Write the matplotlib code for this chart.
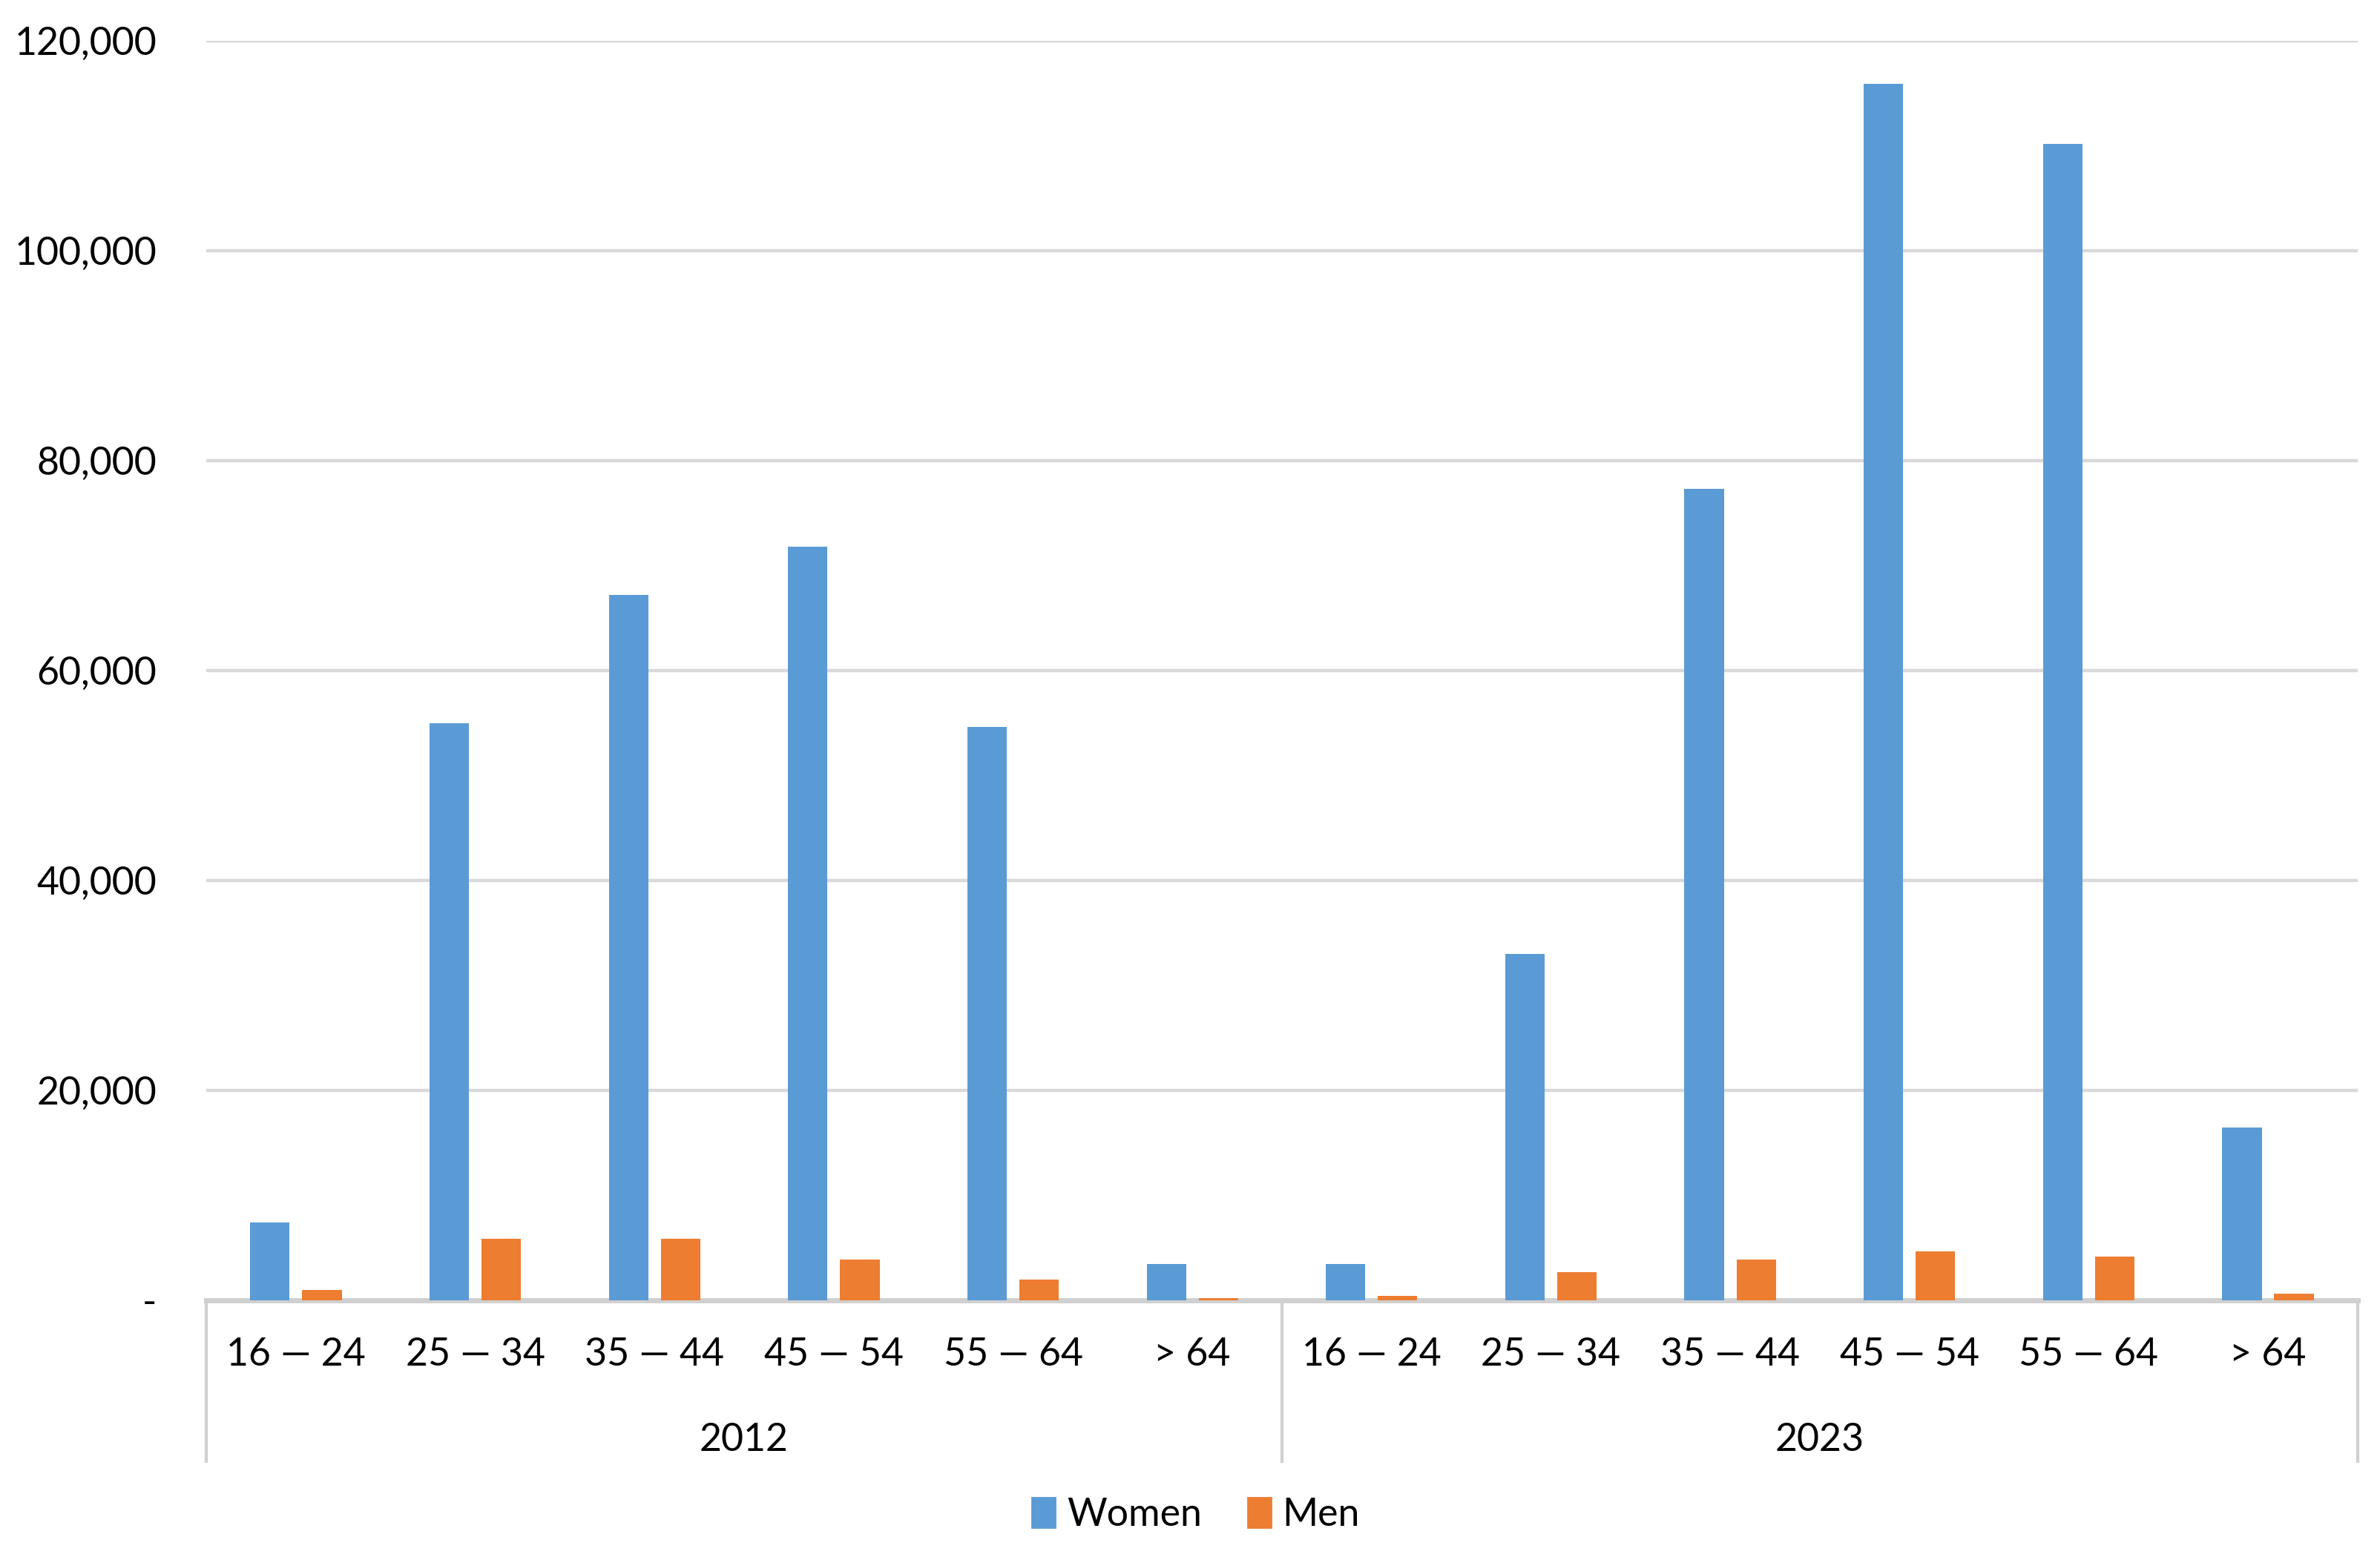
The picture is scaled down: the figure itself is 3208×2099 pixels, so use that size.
import numpy as np
import matplotlib
matplotlib.use("Agg")
import matplotlib.pyplot as plt
from matplotlib.patches import Patch

plt.rcParams['font.family'] = ['Lato', 'DejaVu Sans']

# data
age_groups = ['16 \u2014 24', '25 \u2014 34', '35 \u2014 44', '45 \u2014 54', '55 \u2014 64', '> 64']
years = ['2012', '2023']
women_2012 = [7400, 55000, 67200, 71800, 54600, 3500]
men_2012 = [1000, 5900, 5900, 3900, 2000, 200]
women_2023 = [3500, 33000, 77300, 115900, 110200, 16500]
men_2023 = [420, 2700, 3900, 4700, 4200, 650]

women = women_2012 + women_2023
men = men_2012 + men_2023
labels = age_groups + age_groups

blue = '#5B9BD5'
orange = '#ED7D31'
fs = 18.7

fig = plt.figure(figsize=(16.04, 10.495), dpi=200)
ax = fig.add_axes([0.0867, 0.1648, 0.9039, 0.809])

x = np.arange(len(labels))
w = 0.22
ax.bar(x - 0.145, women, w, color=blue, zorder=3)
ax.bar(x + 0.145, men, w, color=orange, zorder=3)

ax.set_xlim(-0.5, len(labels) - 0.5)
ax.set_ylim(0, 120000)
yt = np.arange(0, 120001, 20000)
ax.set_yticks(yt)
ax.set_yticklabels(['-'] + [f'{v:,}' for v in yt[1:]], fontsize=fs)
ax.tick_params(axis='y', length=0, pad=24)
ax.grid(axis='y', color='#d9d9d9', linewidth=1.6, zorder=0)
ax.set_xticks([])
for s in ['top', 'right', 'left']:
    ax.spines[s].set_visible(False)
ax.spines['bottom'].set_color('#d0d0d0')
ax.spines['bottom'].set_linewidth(2.5)

# category labels and year groups below the axis
tr = ax.get_xaxis_transform()
for i, lab in enumerate(labels):
    ax.text(i, -0.0435, lab, transform=tr, ha='center', va='center', fontsize=fs)
n = len(age_groups)
for j, yr in enumerate(years):
    ax.text(j * n + (n - 1) / 2, -0.111, yr, transform=tr, ha='center', va='center', fontsize=fs)
for b in [-0.5, n - 0.5, 2 * n - 0.5]:
    ax.plot([b, b], [0, -0.128], transform=tr, color='#d0d0d0', linewidth=1.5, clip_on=False)

handles = [Patch(color=blue, label='Women'), Patch(color=orange, label='Men')]
fig.legend(handles=handles, loc='center', bbox_to_anchor=(0.5025, 0.027), ncol=2,
           frameon=False, fontsize=fs, handlelength=0.6, handleheight=0.8,
           handletextpad=0.3, columnspacing=1.2)

fig.savefig('out.png', dpi=200, facecolor='white')
